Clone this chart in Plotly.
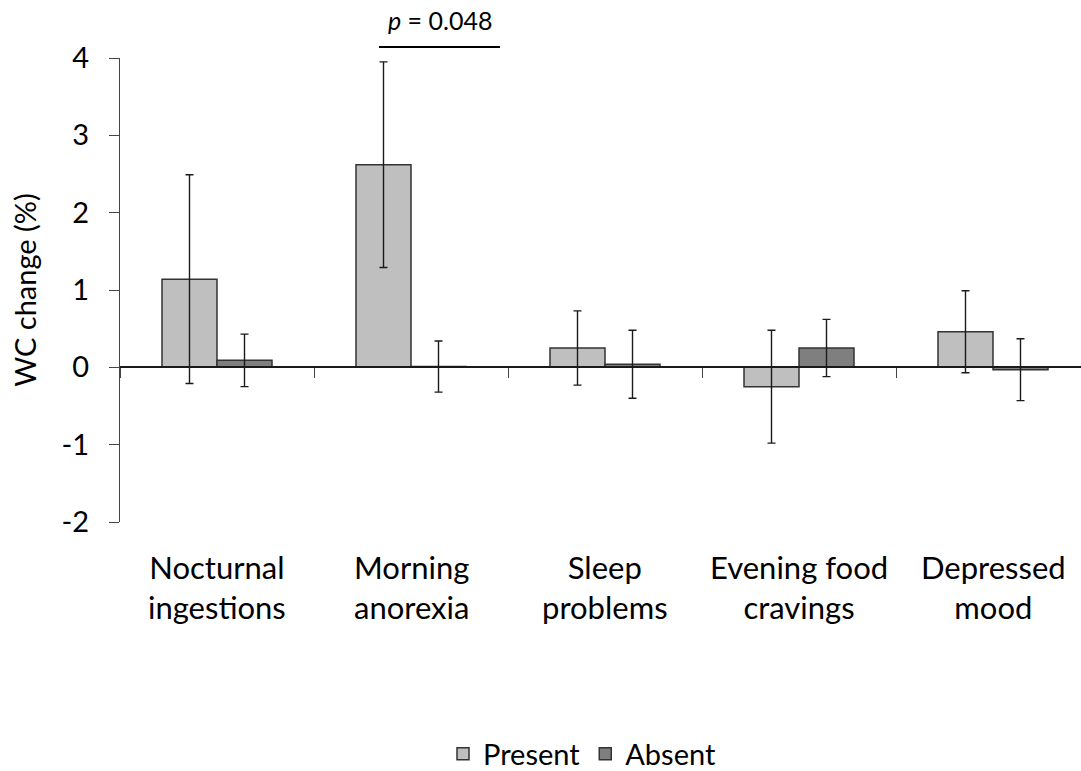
import plotly.graph_objects as go

categories = ["Nocturnal ingestions", "Morning anorexia", "Sleep problems",
              "Evening food cravings", "Depressed mood"]
category_labels = ["Nocturnal<br>ingestions", "Morning<br>anorexia", "Sleep<br>problems",
                   "Evening food<br>cravings", "Depressed<br>mood"]
present = [1.14, 2.62, 0.25, -0.25, 0.46]
present_err = [1.35, 1.33, 0.48, 0.73, 0.53]
absent = [0.09, 0.01, 0.04, 0.25, -0.03]
absent_err = [0.34, 0.33, 0.44, 0.37, 0.40]
y_ticks = [-2, -1, 0, 1, 2, 3, 4]
p_label = "<i>p</i> = 0.048"

FONT = "Lato"
W, H = 1081, 771
ML, MR, MT, MB = 120, 0, 58, 249
plot_h = H - MT - MB          # 464
plot_w = W - ML - MR
cat_px = 194.0
PLOT_BOTTOM = 522             # pixel of y = -2


def paper_y(win_y):
    return (PLOT_BOTTOM - win_y) / plot_h


fig = go.Figure()
fig.add_trace(go.Bar(
    name="Present", x=categories, y=present,
    marker=dict(color="#BFBFBF", line=dict(color="#333333", width=1.5)),
    error_y=dict(type="data", array=present_err, visible=True,
                 color="#1a1a1a", thickness=1.4, width=4),
))
fig.add_trace(go.Bar(
    name="Absent", x=categories, y=absent,
    marker=dict(color="#7F7F7F", line=dict(color="#333333", width=1.5)),
    error_y=dict(type="data", array=absent_err, visible=True,
                 color="#1a1a1a", thickness=1.4, width=4),
))

annotations = []
for cat, lab in zip(categories, category_labels):
    annotations.append(dict(
        x=cat, xref="x", y=paper_y(587), yref="paper", text=lab,
        showarrow=False, xanchor="center", yanchor="middle",
        font=dict(family=FONT, size=31, color="#000000"),
    ))
annotations.append(dict(
    x=1.148, xref="x", y=paper_y(20), yref="paper", text=p_label,
    showarrow=False, xanchor="center", yanchor="middle", borderpad=0,
    font=dict(family=FONT, size=25, color="#000000"),
))

fig.add_shape(type="line", xref="x", yref="paper",
              x0=0.835, x1=1.459, y0=paper_y(47), y1=paper_y(47),
              line=dict(color="#000000", width=2))

fig.update_layout(
    width=W, height=H,
    margin=dict(l=ML, r=MR, t=MT, b=MB, autoexpand=False),
    paper_bgcolor="white", plot_bgcolor="white",
    barmode="group", bargap=1 - 110 / cat_px, bargroupgap=0,
    font=dict(family=FONT, color="#000000"),
    showlegend=True,
    legend=dict(orientation="h", x=(582 - 120) / plot_w, xanchor="center",
                y=paper_y(754), yanchor="middle",
                font=dict(family=FONT, size=29, color="#000000"),
                itemwidth=30, tracegroupgap=0),
    annotations=annotations,
    xaxis=dict(
        type="category", range=[-0.5, -0.5 + plot_w / cat_px],
        anchor="free", position=2 / 6,
        showline=True, linecolor="#1a1a1a", linewidth=1.5,
        ticks="outside", tickson="boundaries", ticklen=10, tickwidth=1.3, tickcolor="#444444",
        showticklabels=False, showgrid=False, zeroline=False,
    ),
    yaxis=dict(
        range=[-2, 4], tickvals=y_ticks, ticktext=[str(v) for v in y_ticks],
        showline=True, linecolor="#444444", linewidth=1.3,
        ticks="outside", ticklen=10, tickwidth=1.3, tickcolor="#444444",
        ticklabelstandoff=14,
        tickfont=dict(family=FONT, size=29, color="#000000"),
        showgrid=False, zeroline=False,
        title=dict(text="WC change (%)", font=dict(family=FONT, size=29, color="#000000"),
                   standoff=16),
    ),
)

fig.write_html("out.html",
               config={"displayModeBar": False},
               post_script="document.body.style.margin='0px';document.body.style.overflow='hidden';")
